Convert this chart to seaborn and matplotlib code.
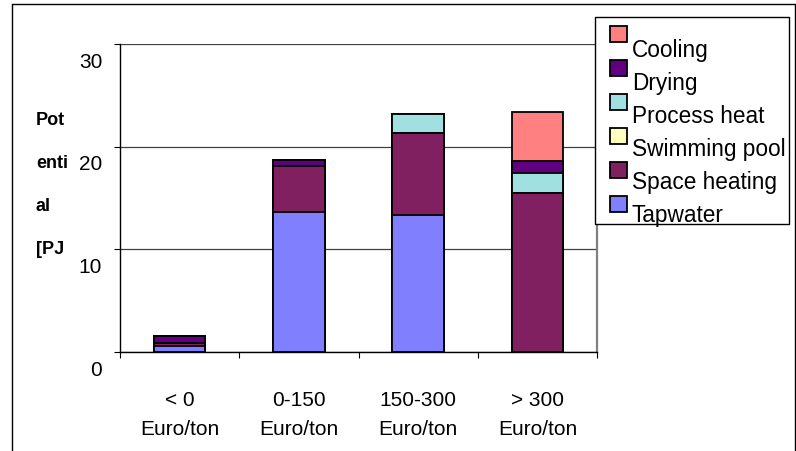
import numpy as np
import matplotlib
matplotlib.use("Agg")
import matplotlib.pyplot as plt
import matplotlib.transforms as mtransforms
from matplotlib.patches import Rectangle
from matplotlib.lines import Line2D
import seaborn as sns

# Cost classes on the x axis
categories = ["< 0\nEuro/ton", "0-150\nEuro/ton", "150-300\nEuro/ton", "> 300\nEuro/ton"]

# Potential per application [PJ], stacked bottom to top
series_names = ["Tapwater", "Space heating", "Swimming pool", "Process heat", "Drying", "Cooling"]
tapwater = [0.55, 13.6, 13.3, 0.0]
space_heating = [0.35, 4.5, 8.0, 15.5]
swimming_pool = [0.0, 0.0, 0.0, 0.0]
process_heat = [0.0, 0.0, 1.9, 1.95]
drying = [0.7, 0.65, 0.0, 1.15]
cooling = [0.0, 0.0, 0.0, 4.8]
series_colors = ["#8080FF", "#802060", "#FFFFC0", "#A0E0E0", "#600080", "#FF8080"]

y_ticks = [0, 10, 20, 30]
y_label = "Pot\nenti\nal\n[PJ"

W, H = 796, 452
sns.set_theme(style="white")
plt.rcParams["font.family"] = ["Liberation Sans", "DejaVu Sans"]


def fx(x):
    return x / W


def fy(y):
    return 1 - y / H


fig = plt.figure(figsize=(W / 100, H / 100), dpi=100)
fig.patch.set_facecolor("white")
ax = fig.add_axes([fx(120), fy(353), (597 - 120) / W, (353 - 45) / H])
ax.set_facecolor("white")

# Stacked bars: draw cumulative totals from the top layer down
layers = np.array([tapwater, space_heating, swimming_pool, process_heat, drying, cooling])
cum = np.cumsum(layers, axis=0)
for i in reversed(range(len(layers))):
    sns.barplot(x=categories, y=cum[i], order=categories, color=series_colors[i],
                saturation=1, width=0.43, edgecolor="black", linewidth=1.3,
                errorbar=None, ax=ax, zorder=3)

ax.set_ylim(0, 30)
ax.set_xlim(-0.5, len(categories) - 0.5)
ax.set_yticks(y_ticks)
ax.set_yticklabels([str(t) for t in y_ticks])
ax.yaxis.grid(True, color="#404040", linewidth=0.9)
ax.xaxis.grid(False)
ax.set_axisbelow(True)

for side in ["left", "bottom"]:
    ax.spines[side].set_color("black")
    ax.spines[side].set_linewidth(1.0)
ax.spines["top"].set_visible(False)
ax.spines["right"].set_color("#808080")
ax.spines["right"].set_linewidth(1.6)

ax.tick_params(axis="y", which="major", left=True, direction="out", length=4.3,
               width=0.8, color="black", pad=8.5, labelsize=15, labelcolor="black")
ax.set_xticks(np.arange(-0.5, len(categories), 1.0), minor=True)
ax.tick_params(axis="x", which="minor", bottom=True, direction="out", length=4.3,
               width=0.8, color="black")
ax.tick_params(axis="x", which="major", bottom=False, length=0, pad=27,
               labelsize=15, labelcolor="black")
ax.set_xticks(range(len(categories)))
ax.set_xticklabels(categories, linespacing=1.68)

shift = mtransforms.ScaledTranslation(0, -15 / 100, fig.dpi_scale_trans)
for lab in ax.get_yticklabels():
    lab.set_transform(lab.get_transform() + shift)

ax.set_xlabel("")
ax.set_ylabel(y_label, rotation=0, fontsize=13, fontweight="bold", ha="left",
              va="center", linespacing=3.0, color="black")
ax.yaxis.set_label_coords((36 - 120) / 477, (353 - 184.5) / 308)

# Chart frame
for (x0, y0, x1, y1) in [(12, 5, 12, 452), (12, 5, 795, 5), (795, 5, 795, 452)]:
    fig.add_artist(Line2D([fx(x0), fx(x1)], [fy(y0), fy(y1)], color="black",
                          linewidth=1.0, transform=fig.transFigure))

# Legend box (top series first)
fig.add_artist(Rectangle((fx(595), fy(225)), (789 - 595) / W, (225 - 18) / H,
                         transform=fig.transFigure, facecolor="white",
                         edgecolor="black", linewidth=1.0, zorder=5))
for k, i in enumerate(reversed(range(len(series_names)))):
    top = 27 + 34 * k
    fig.add_artist(Rectangle((fx(610), fy(top + 16)), 17 / W, 16 / H,
                             transform=fig.transFigure, facecolor=series_colors[i],
                             edgecolor="black", linewidth=1.3, zorder=6))
    fig.text(fx(632), fy(57 + 33 * k), series_names[i], fontsize=16.3,
             ha="left", va="baseline", color="black", zorder=7)

fig.savefig("out.png", dpi=100, facecolor="white")
